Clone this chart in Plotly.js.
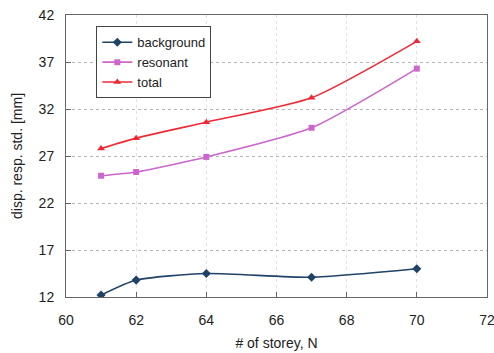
<!DOCTYPE html>
<html><head><meta charset="utf-8">
<script src="https://cdn.plot.ly/plotly-3.0.1.min.js"></script>
<style>html,body{margin:0;padding:0;background:#fff}#chart{width:494px;height:353px}</style>
</head><body><div id="chart"></div>
<script>
const storeys = [61, 62, 64, 67, 70];
const background = [12.2, 13.8, 14.5, 14.1, 15.0];
const resonant = [24.9, 25.3, 26.9, 30.0, 36.3];
const total = [27.8, 28.9, 30.6, 33.2, 39.2];
const xTicks = [60, 62, 64, 66, 68, 70, 72];
const yTicks = [12, 17, 22, 27, 32, 37, 42];

function tr(name, y, color, symbol, size) {
  return {x: storeys, y: y, name: name, type: 'scatter', mode: 'lines+markers',
    line: {color: color, width: 1.6, shape: 'spline', smoothing: 0.6},
    marker: {color: color, symbol: symbol, size: size}};
}
const data = [
  tr('background', background, '#1f4266', 'diamond', 7),
  tr('resonant', resonant, '#cc66cc', 'square', 6),
  tr('total', total, '#ee2a36', 'triangle-up', 7)
];
const fam = 'Liberation Sans, Arial, sans-serif';
const font = {family: fam, size: 14, color: '#222'};
const layout = {
  width: 494, height: 353,
  margin: {l: 66, r: 7, t: 15, b: 56},
  paper_bgcolor: '#fff', plot_bgcolor: '#fff',
  font: font,
  showlegend: true,
  legend: {x: 0.072, y: 0.96, xanchor: 'left', yanchor: 'top', bgcolor: '#fff',
    bordercolor: '#444', borderwidth: 1, font: {family: fam, size: 13, color: '#222'},
    tracegroupgap: 0, itemwidth: 30},
  xaxis: {range: [60, 72.001], tickvals: xTicks, ticktext: xTicks.map(String),
    ticks: 'inside', ticklen: 5, tickcolor: '#666', showline: true, linecolor: '#666', mirror: true,
    showgrid: true, gridcolor: '#e2e2e2', griddash: 'dot', zeroline: false, ticklabelstandoff: 10,
    automargin: false, ticklabeloverflow: 'allow',
    title: {text: '# of storey, N', font: {family: fam, size: 14, color: '#222'}, standoff: 11}},
  yaxis: {range: [12, 42], tickvals: yTicks, ticktext: yTicks.map(String),
    ticks: 'inside', ticklen: 5, tickcolor: '#666', showline: true, linecolor: '#666', mirror: true,
    showgrid: true, gridcolor: '#b5b5b5', griddash: 'dot', zeroline: false, ticklabelstandoff: 8,
    automargin: false,
    title: {text: 'disp. resp. std. [mm]', font: {family: fam, size: 14, color: '#222'}, standoff: 12}}
};
Plotly.newPlot('chart', data, layout, {displayModeBar: false, staticPlot: true});
</script></body></html>
